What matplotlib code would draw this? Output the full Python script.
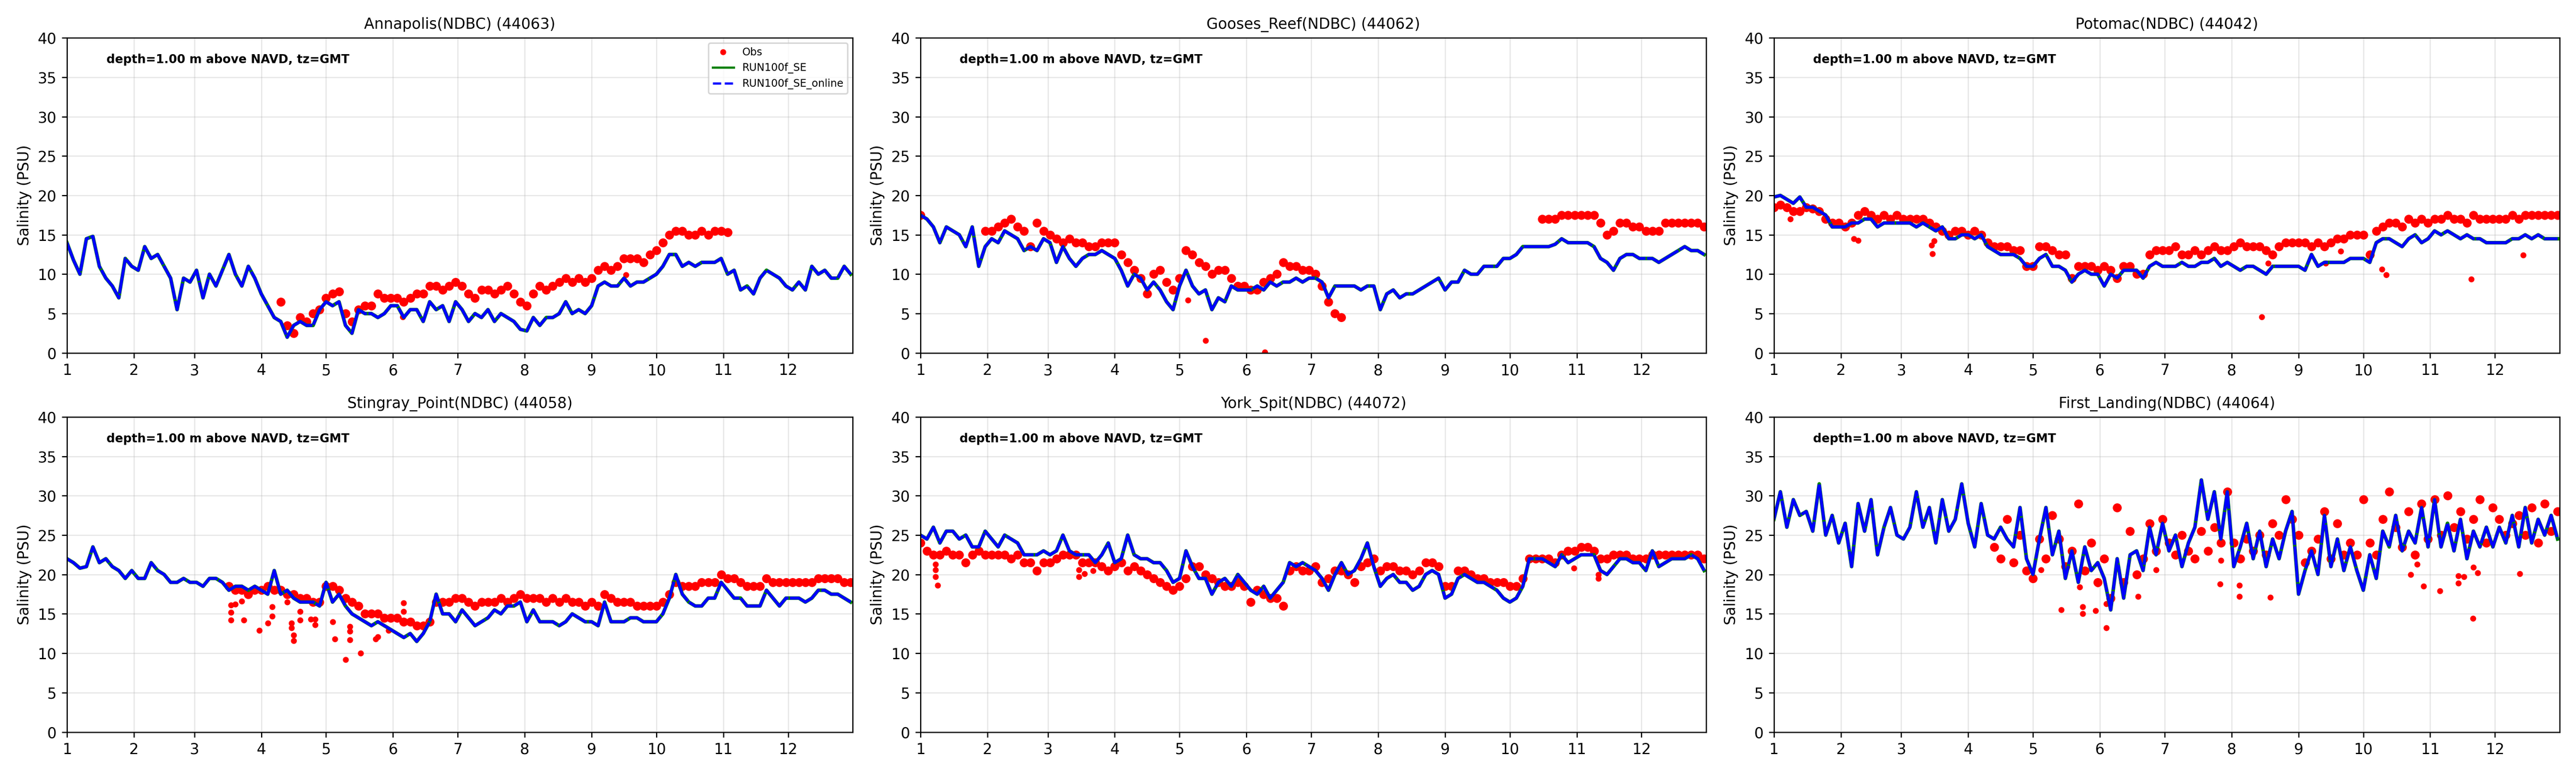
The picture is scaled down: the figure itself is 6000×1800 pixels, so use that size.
import numpy as np
import pandas as pd
import matplotlib
matplotlib.use('Agg')
import matplotlib.pyplot as plt
import matplotlib.dates as mdates
from matplotlib.lines import Line2D
from matplotlib.ticker import FuncFormatter

nan = np.nan

# sampling: one value every 3 days from Jan 1 (122 values, one row per month below)
start = pd.Timestamp('2021-01-01')
days = np.arange(0, 364, 3)

titles = ['Annapolis(NDBC) (44063)', 'Gooses_Reef(NDBC) (44062)', 'Potomac(NDBC) (44042)',
          'Stingray_Point(NDBC) (44058)', 'York_Spit(NDBC) (44072)', 'First_Landing(NDBC) (44064)']

# ---------------- Annapolis ----------------
annapolis_model = [
    14.0, 11.8, 10.0, 14.5, 14.8, 11.0, 9.5, 8.5, 7.0, 12.0, 11.0,
    10.5, 13.5, 12.0, 12.5, 11.0, 9.5, 5.5, 9.5, 9.0,
    10.5, 7.0, 10.0, 8.5, 10.5, 12.5, 10.0, 8.5, 11.0, 9.5,
    7.5, 6.0, 4.5, 4.0, 2.0, 3.5, 4.0, 3.5, 3.5, 5.5,
    6.5, 6.0, 6.5, 3.5, 2.5, 5.5, 5.0, 5.0, 4.5, 5.0, 6.0,
    6.0, 4.5, 5.5, 5.5, 4.0, 6.5, 5.5, 6.0, 4.0, 6.5,
    5.5, 4.0, 5.0, 4.5, 5.5, 4.0, 5.0, 4.5, 4.0, 3.0,
    2.8, 4.5, 3.5, 4.5, 4.5, 5.0, 6.5, 5.0, 5.5, 5.0,
    6.0, 8.5, 9.0, 8.5, 8.5, 9.5, 8.5, 9.0, 9.0, 9.5,
    10.0, 11.0, 12.5, 12.5, 11.0, 11.5, 11.0, 11.5, 11.5, 11.5, 12.0,
    10.0, 10.5, 8.0, 8.5, 7.5, 9.5, 10.5, 10.0, 9.5, 8.5,
    8.0, 9.0, 8.0, 11.0, 10.0, 10.5, 9.5, 9.5, 11.0, 10.0]
annapolis_obs = (
    [nan] * 30 +
    [nan, nan, nan, 6.5, 3.5, 2.5, 4.5, 4.0, 5.0, 5.5] +
    [7.0, 7.5, 7.8, 5.0, 4.0, 5.5, 6.0, 6.0, 7.5, 7.0, 7.0] +
    [7.0, 6.5, 7.0, 7.5, 7.5, 8.5, 8.5, 8.0, 8.5, 9.0] +
    [8.5, 7.5, 7.0, 8.0, 8.0, 7.5, 8.0, 8.5, 7.5, 6.5] +
    [6.0, 7.5, 8.5, 8.0, 8.5, 9.0, 9.5, 9.0, 9.5, 9.0] +
    [9.5, 10.5, 11.0, 10.5, 11.0, 12.0, 12.0, 12.0, 11.5, 12.5] +
    [13.0, 14.0, 15.0, 15.5, 15.5, 15.0, 15.0, 15.5, 15.0, 15.5, 15.5] +
    [15.3] + [nan] * 9 +
    [nan] * 10)
annapolis_spike_day = [155.6, 259.0]
annapolis_spike_val = [4.6, 9.9]

# ---------------- Gooses Reef ----------------
gooses_model = [
    17.5, 17.0, 16.0, 14.0, 16.0, 15.5, 15.0, 13.5, 16.0, 11.0, 13.5,
    14.5, 14.0, 15.5, 15.0, 14.5, 13.0, 13.5, 13.0, 14.5,
    14.0, 11.5, 13.5, 12.0, 11.0, 12.0, 12.5, 12.5, 13.0, 12.5,
    12.0, 10.5, 8.5, 10.0, 9.5, 8.0, 9.0, 8.0, 6.5, 5.5,
    8.5, 10.5, 8.5, 7.5, 8.0, 5.5, 7.0, 6.5, 8.5, 8.0, 8.0,
    8.0, 8.5, 8.0, 9.0, 8.5, 9.0, 9.0, 9.5, 9.0, 9.5,
    9.5, 9.0, 7.0, 8.5, 8.5, 8.5, 8.5, 8.0, 8.5, 8.5,
    5.5, 7.5, 8.0, 7.0, 7.5, 7.5, 8.0, 8.5, 9.0, 9.5,
    8.0, 9.0, 9.0, 10.5, 10.0, 10.0, 11.0, 11.0, 11.0, 12.0,
    12.0, 12.5, 13.5, 13.5, 13.5, 13.5, 13.5, 13.8, 14.5, 14.0, 14.0,
    14.0, 14.0, 13.5, 12.0, 11.5, 10.5, 12.0, 12.5, 12.5, 12.0,
    12.0, 12.0, 11.5, 12.0, 12.5, 13.0, 13.5, 13.0, 13.0, 12.5]
gooses_obs = (
    [17.5] + [nan] * 9 + [15.5] +
    [15.5, 16.0, 16.5, 17.0, 16.0, 15.5, 13.5, 16.5, 15.5] +
    [15.0, 14.5, 14.0, 14.5, 14.0, 14.0, 13.5, 13.5, 14.0, 14.0] +
    [14.0, 12.5, 11.5, 10.5, 9.5, 7.5, 10.0, 10.5, 9.0, 8.0] +
    [9.5, 13.0, 12.5, 11.5, 11.0, 10.0, 10.5, 10.5, 9.5, 8.5, 8.5] +
    [8.0, 8.0, 9.0, 9.5, 10.0, 11.5, 11.0, 11.0, 10.5, 10.5] +
    [10.0, 8.5, 6.5, 5.0, 4.5] + [nan] * 5 +
    [nan] * 20 +
    [nan] * 5 + [17.0, 17.0, 17.0, 17.5, 17.5, 17.5] +
    [17.5, 17.5, 17.5, 16.5, 15.0, 15.5, 16.5, 16.5, 16.0, 16.0] +
    [15.5, 15.5, 15.5, 16.5, 16.5, 16.5, 16.5, 16.5, 16.5, 16.0])
gooses_spike_day = [124.0, 132.0, 159.5]
gooses_spike_val = [6.7, 1.6, 0.1]

# ---------------- Potomac ----------------
potomac_model = [
    19.8, 20.0, 19.5, 19.0, 19.8, 18.5, 18.5, 18.0, 17.5, 16.0, 16.0,
    16.0, 16.5, 16.5, 17.0, 17.0, 16.0, 16.5, 16.5, 16.5,
    16.5, 16.5, 16.0, 16.5, 16.0, 15.5, 16.0, 14.5, 14.5, 15.0,
    15.0, 14.5, 15.0, 13.5, 13.0, 12.5, 12.5, 12.5, 12.0, 11.0,
    11.0, 12.0, 12.5, 11.0, 11.0, 10.5, 9.0, 10.0, 10.5, 10.0, 10.0,
    8.5, 10.0, 9.5, 10.5, 10.5, 10.5, 9.5, 11.0, 11.5, 11.0,
    11.0, 11.0, 11.5, 11.0, 11.0, 11.5, 11.5, 12.0, 11.0, 11.5,
    11.0, 10.5, 11.0, 11.0, 10.5, 10.0, 11.0, 11.0, 11.0, 11.0,
    11.0, 10.5, 12.5, 11.0, 11.5, 11.5, 11.5, 11.5, 12.0, 12.0,
    12.0, 11.5, 14.0, 14.5, 14.5, 14.0, 13.5, 14.5, 15.0, 14.0, 14.5,
    15.5, 15.0, 15.5, 15.0, 14.5, 15.0, 14.5, 14.5, 14.0, 14.0,
    14.0, 14.0, 14.5, 14.5, 15.0, 14.5, 15.0, 14.5, 14.5, 14.5]
potomac_obs = [
    18.5, 18.8, 18.5, 18.0, 18.0, 18.5, 18.3, 18.0, 17.0, 16.5, 16.5,
    16.0, 16.5, 17.5, 18.0, 17.5, 17.0, 17.5, 17.0, 17.5,
    17.0, 17.0, 17.0, 17.0, 16.5, 16.0, 15.5, 15.0, 15.5, 15.5,
    15.0, 15.5, 15.0, 14.0, 13.5, 13.5, 13.5, 13.0, 13.0, 11.0,
    11.0, 13.5, 13.5, 13.0, 12.5, 12.5, 9.5, 11.0, 11.0, 11.0, 10.5,
    11.0, 10.5, 9.5, 11.0, 11.0, 10.0, 10.0, 12.5, 13.0, 13.0,
    13.0, 13.5, 12.5, 12.5, 13.0, 12.5, 13.0, 13.5, 13.0, 13.0,
    13.5, 14.0, 13.5, 13.5, 13.5, 13.0, 12.5, 13.5, 14.0, 14.0,
    14.0, 14.0, 13.5, 14.0, 13.5, 14.0, 14.5, 14.5, 15.0, 15.0,
    15.0, 12.5, 15.5, 16.0, 16.5, 16.5, 16.0, 17.0, 16.5, 17.0, 16.5,
    17.0, 17.0, 17.5, 17.0, 17.0, 16.5, 17.5, 17.0, 17.0, 17.0,
    17.0, 17.0, 17.5, 17.0, 17.5, 17.5, 17.5, 17.5, 17.5, 17.5]
potomac_spike_day = [7.6, 37.0, 39.0, 73.0, 73.5, 74.3, 226.0, 229.0, 255.5,
                     262.6, 281.6, 283.7, 323.0, 347.0]
potomac_spike_val = [17.0, 14.5, 14.3, 13.7, 12.6, 14.2, 4.6, 11.4, 11.4,
                     12.9, 10.6, 9.9, 9.4, 12.4]

# ---------------- Stingray Point ----------------
stingray_model = [
    22.0, 21.5, 20.8, 21.0, 23.5, 21.5, 22.0, 21.0, 20.5, 19.5, 20.5,
    19.5, 19.5, 21.5, 20.5, 20.0, 19.0, 19.0, 19.5, 19.0,
    19.0, 18.5, 19.5, 19.5, 19.0, 18.0, 18.5, 18.5, 18.0, 18.5,
    18.0, 17.5, 20.5, 17.5, 18.0, 17.0, 16.5, 16.5, 16.5, 16.0,
    19.0, 16.5, 17.5, 16.0, 15.0, 14.5, 14.0, 13.5, 14.0, 13.5, 13.0,
    12.5, 12.0, 12.5, 11.5, 12.5, 14.0, 17.5, 15.0, 15.0, 14.0,
    15.5, 14.5, 13.5, 14.0, 14.5, 15.5, 15.0, 16.0, 16.0, 16.5,
    14.0, 15.5, 14.0, 14.0, 14.0, 13.5, 14.0, 15.0, 14.5, 14.0,
    14.0, 13.5, 16.5, 14.0, 14.0, 14.0, 14.5, 14.5, 14.0, 14.0,
    14.0, 15.0, 17.0, 20.0, 17.5, 16.5, 16.0, 16.0, 17.0, 17.0, 19.0,
    18.0, 17.0, 17.0, 16.0, 16.0, 16.0, 18.0, 17.0, 16.0, 17.0,
    17.0, 17.0, 16.5, 17.0, 18.0, 18.0, 17.5, 17.5, 17.0, 16.5]
stingray_obs = (
    [nan] * 20 +
    [nan] * 5 + [18.5, 18.0, 18.0, 17.5, 18.0] +
    [18.0, 18.5, 18.0, 18.0, 17.5, 17.5, 17.0, 17.0, 16.5, 16.5] +
    [18.5, 18.5, 18.0, 17.0, 16.5, 16.0, 15.0, 15.0, 15.0, 14.5, 14.5] +
    [14.5, 14.0, 14.0, 13.5, 13.5, 14.0, 16.5, 16.5, 16.5, 17.0] +
    [17.0, 16.5, 16.0, 16.5, 16.5, 16.5, 17.0, 16.5, 17.0, 17.5] +
    [17.0, 17.0, 17.0, 16.5, 17.0, 16.5, 17.0, 16.5, 16.5, 16.0] +
    [16.5, 16.0, 17.5, 17.0, 16.5, 16.5, 16.5, 16.0, 16.0, 16.0] +
    [16.0, 16.5, 17.5, 19.0, 18.5, 18.5, 18.5, 19.0, 19.0, 19.0, 20.0] +
    [19.5, 19.5, 19.0, 18.5, 18.5, 18.5, 19.5, 19.0, 19.0, 19.0] +
    [19.0, 19.0, 19.0, 19.0, 19.5, 19.5, 19.5, 19.5, 19.0, 19.0])
stingray_spike_day = [76, 76, 76, 78, 81, 82, 89, 93, 95, 95, 102, 104, 104, 105, 105,
                      108, 108, 113, 115, 115, 123, 124, 129, 131, 131, 131, 136,
                      143, 144, 149, 156, 156]
stingray_spike_val = [16.1, 15.2, 14.2, 16.2, 16.6, 14.2, 12.9, 13.8, 15.9, 14.7, 16.5,
                      13.8, 13.2, 12.3, 11.6, 14.2, 15.3, 14.3, 13.6, 14.3, 14.0, 11.8,
                      9.2, 11.7, 12.8, 13.4, 10.0, 11.8, 12.1, 12.9, 16.4, 15.3]

# ---------------- York Spit ----------------
york_model = [
    25.0, 24.5, 26.0, 24.0, 25.5, 25.5, 24.5, 25.0, 23.5, 23.5, 25.5,
    24.5, 23.5, 25.0, 24.5, 24.0, 22.5, 22.5, 22.5, 23.0,
    22.5, 23.0, 25.0, 23.0, 22.5, 22.5, 22.5, 21.5, 22.5, 24.0,
    21.5, 22.0, 25.0, 22.5, 22.0, 22.0, 21.5, 21.5, 20.5, 19.0,
    19.5, 23.0, 21.0, 19.5, 19.5, 17.5, 19.0, 19.5, 18.5, 20.0, 19.0,
    18.0, 17.5, 18.5, 17.0, 18.0, 19.0, 21.5, 21.0, 21.5, 21.0,
    20.5, 19.5, 18.0, 20.0, 21.5, 20.0, 20.5, 22.0, 24.0, 21.0,
    18.5, 19.5, 20.0, 19.0, 19.0, 18.0, 18.5, 20.0, 20.5, 20.0,
    17.0, 17.5, 19.5, 20.0, 19.5, 19.0, 19.0, 18.5, 18.0, 17.0,
    16.5, 17.0, 18.5, 22.0, 22.0, 22.0, 21.5, 21.0, 22.5, 21.5, 22.0,
    22.5, 22.5, 22.5, 20.5, 20.0, 21.0, 22.0, 22.0, 21.5, 21.5,
    20.5, 23.0, 21.0, 21.5, 22.0, 22.0, 22.0, 22.5, 22.0, 20.5]
york_obs = [
    24.0, 23.0, 22.5, 22.5, 23.0, 22.5, 22.5, 21.5, 22.5, 23.0, 22.5,
    22.5, 22.5, 22.5, 22.0, 22.5, 21.5, 21.5, 20.5, 21.5,
    21.5, 22.0, 22.5, 22.5, 22.5, 21.5, 21.5, 21.5, 21.0, 20.5,
    21.0, 21.5, 20.5, 21.0, 20.5, 20.0, 19.5, 19.0, 18.5, 18.0,
    18.5, 19.5, 21.0, 21.0, 20.0, 19.5, 19.0, 18.5, 18.5, 19.0, 18.5,
    16.5, 18.0, 17.5, 17.0, 17.0, 16.0, 20.5, 21.0, 20.5, 20.5,
    21.0, 19.0, 19.5, 20.5, 20.5, 20.0, 19.0, 21.0, 21.5, 22.0,
    20.5, 21.0, 21.0, 20.5, 20.5, 20.0, 20.5, 21.5, 21.5, 21.0,
    18.5, 18.5, 20.5, 20.5, 20.0, 19.5, 19.5, 19.0, 19.0, 19.0,
    18.5, 18.5, 19.5, 22.0, 22.0, 22.0, 22.0, 21.5, 22.5, 23.0, 23.0,
    23.5, 23.5, 23.0, 22.0, 22.0, 22.5, 22.5, 22.5, 22.0, 22.0,
    22.0, 22.5, 22.5, 22.5, 22.5, 22.5, 22.5, 22.5, 22.5, 22.0]
york_spike_day = [7, 7, 7, 8, 73.5, 73.5, 76, 80, 302.7, 314, 314]
york_spike_val = [21.3, 20.6, 19.7, 18.6, 20.6, 19.7, 20.1, 20.5, 20.8, 20.0, 19.5]

# ---------------- First Landing ----------------
landing_model = [
    27.0, 30.5, 26.0, 29.5, 27.5, 28.0, 25.5, 31.5, 25.0, 27.5, 24.0,
    26.5, 21.0, 29.0, 25.5, 29.5, 22.5, 26.0, 28.5, 25.0,
    24.5, 26.0, 30.5, 26.0, 28.5, 24.0, 29.5, 25.5, 27.0, 31.5,
    26.5, 23.5, 29.0, 25.0, 24.5, 26.0, 24.5, 23.5, 28.5, 22.0,
    20.0, 24.5, 28.5, 22.5, 25.5, 19.5, 23.0, 19.0, 23.5, 20.5, 21.5,
    19.5, 15.5, 22.0, 17.0, 22.5, 23.0, 20.5, 26.0, 22.5, 26.5,
    23.0, 25.0, 21.0, 24.0, 26.0, 32.0, 27.0, 30.5, 24.5, 30.5,
    21.0, 23.5, 26.5, 22.0, 25.5, 21.0, 24.5, 22.0, 25.5, 28.0,
    17.5, 20.5, 23.0, 20.0, 27.5, 21.0, 24.5, 20.5, 23.5, 20.5,
    18.0, 22.5, 19.5, 25.5, 23.5, 27.5, 23.0, 25.5, 24.0, 28.5, 23.5,
    29.5, 23.5, 26.5, 23.0, 27.0, 22.0, 25.5, 23.5, 26.0, 23.5,
    26.0, 24.0, 27.5, 23.5, 28.5, 24.0, 27.0, 25.0, 27.5, 24.5]
landing_obs = (
    [nan] * 30 +
    [nan, nan, nan, nan, 23.5, 22.0, 27.0, 21.5, 25.0, 20.5] +
    [19.5, 24.5, 22.0, 27.5, 24.5, 21.0, 23.0, 29.0, 20.5, 24.0, 19.0] +
    [22.0, 17.0, 28.5, 19.0, 25.5, 20.0, 22.0, 26.5, 23.0, 27.0] +
    [24.0, 22.5, 25.0, 23.0, 22.0, 25.5, 23.0, 26.0, 24.0, 30.5] +
    [24.0, 22.0, 24.5, 23.0, 25.0, 22.5, 26.5, 25.0, 29.5, 27.0] +
    [25.0, 21.5, 23.0, 24.5, 28.0, 22.0, 26.5, 22.5, 24.0, 22.5] +
    [29.5, 24.0, 22.5, 27.0, 30.5, 26.0, 23.5, 28.0, 22.5, 29.0, 24.5] +
    [29.5, 25.0, 30.0, 26.0, 28.0, 24.5, 27.0, 29.5, 24.0, 28.5] +
    [27.0, 25.0, 26.5, 27.5, 25.0, 28.5, 24.0, 29.0, 25.5, 28.0])
landing_spike_day = [123.7, 133, 141.7, 143, 143, 149, 150, 154, 154, 168.6, 177,
                     206.6, 207, 215.7, 215.7, 230, 295, 298, 301, 308.5, 317, 317,
                     319.6, 323.7, 324, 326, 345.5]
landing_spike_val = [20.6, 15.5, 18.4, 15.9, 15.0, 15.4, 18.8, 13.2, 16.3, 17.2, 20.6,
                     18.8, 21.8, 17.2, 18.6, 17.1, 20.0, 21.3, 18.5, 17.9, 18.9, 19.8,
                     19.7, 14.4, 20.9, 20.2, 20.1]

models = [annapolis_model, gooses_model, potomac_model, stingray_model, york_model, landing_model]
obs = [annapolis_obs, gooses_obs, potomac_obs, stingray_obs, york_obs, landing_obs]
spike_days = [annapolis_spike_day, gooses_spike_day, potomac_spike_day,
              stingray_spike_day, york_spike_day, landing_spike_day]
spike_vals = [annapolis_spike_val, gooses_spike_val, potomac_spike_val,
              stingray_spike_val, york_spike_val, landing_spike_val]

t = start + pd.to_timedelta(days, unit='D')

fig, axes = plt.subplots(2, 3, figsize=(24, 7.2))
fig.subplots_adjust(left=0.026, right=0.9937, top=0.951, bottom=0.053, wspace=0.086, hspace=0.203)

for i, ax in enumerate(axes.flat):
    ts = start + pd.to_timedelta(spike_days[i], unit='D')
    # obs are hourly in the original, so the 3-day samples get bigger dots to fill the band
    ax.plot(t, obs[i], 'r.', ms=10)
    ax.plot(ts, spike_vals[i], 'r.')
    ax.plot(t, models[i], color='g', lw=2.4)                       # RUN100f_SE
    ax.plot(t, models[i], color='b', lw=2.0, ls=(0, (12, 0.5)))    # RUN100f_SE_online
    ax.set_title(titles[i], fontsize=10)
    ax.set_ylabel('Salinity (PSU)')
    ax.set_ylim(0, 40)
    ax.set_yticks(range(0, 41, 5))
    ax.set_xlim(start, pd.Timestamp('2021-12-31'))
    ax.xaxis.set_major_locator(mdates.MonthLocator())
    ax.xaxis.set_major_formatter(FuncFormatter(lambda v, pos: str(mdates.num2date(v).month)))
    ax.grid(True, alpha=0.3)
    ax.text(0.05, 0.95, 'depth=1.00 m above NAVD, tz=GMT', transform=ax.transAxes,
            fontsize=8, fontweight='bold', va='top')

handles = [Line2D([], [], color='r', marker='.', ls='none'),
           Line2D([], [], color='g', lw=1.5),
           Line2D([], [], color='b', lw=1.5, ls='--')]
axes[0, 0].legend(handles, ['Obs', 'RUN100f_SE', 'RUN100f_SE_online'], loc='upper right', fontsize=7)

plt.savefig('out.png', dpi=250)
